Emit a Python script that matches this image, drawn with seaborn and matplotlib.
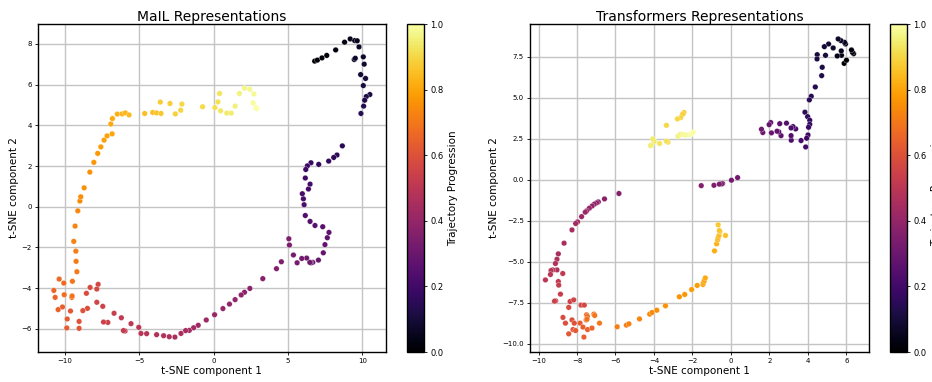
import numpy as np
import seaborn as sns
import matplotlib.pyplot as plt
from matplotlib.cm import ScalarMappable
from matplotlib.colors import Normalize

# ── t-SNE points, listed in trajectory order (start → end) ──────────────────
mail_x = [
    6.80, 6.98, 7.29, 7.61, 8.21, 8.81, 9.19, 9.49, 9.66, 9.78, 9.46, 9.53, 10.07, 10.13, 9.89, 10.22,
    10.07, 10.51, 10.27, 10.16, 10.09, 9.91,
    8.66, 8.30, 8.08, 7.74, 7.07, 6.55, 6.31, 6.20, 6.17, 6.49, 6.38, 5.97, 6.04, 6.09, 6.17, 6.49,
    6.82, 7.34, 7.76, 7.65, 7.49, 7.38, 7.05, 6.67, 6.55, 6.47, 6.26, 5.93, 5.62, 5.37, 5.10, 5.06,
    4.56, 4.23, 3.31, 2.44, 2.08, 1.86, 1.45, 1.07, 0.63, 0.07, -0.49, -1.03, -1.34, -1.63, -1.88,
    -2.19, -2.60, -2.98, -3.36, -3.83, -4.50, -4.88,
    -5.03, -5.55, -6.20, -5.95, -6.06, -6.69, -7.11, -7.40, -7.45, -7.85, -7.76, -7.85, -8.30, -8.55,
    -8.48, -8.79, -9.04, -9.04, -9.62, -9.84, -9.87, -10.16, -10.45, -10.65, -10.74, -10.38, -10.07,
    -10.04, -9.53, -9.51, -9.49,
    -9.19, -9.24, -9.26, -9.40, -9.31, -9.13, -8.99, -8.93, -8.70, -8.32, -8.05, -7.79, -7.58, -7.36,
    -7.16, -6.82, -6.91, -6.80, -6.47, -6.15, -5.93, -5.68,
    -4.63, -4.09, -3.83, -3.53, -3.58, -2.93, -2.57, -2.21, -2.13, -0.74, 0.09, 0.29, 0.40, 0.47,
    0.89, 1.19, 1.45, 1.74, 2.08, 2.44, 2.71, 2.66, 2.84, 2.90,
]
mail_y = [
    7.15, 7.20, 7.31, 7.43, 7.70, 8.08, 8.24, 8.16, 8.15, 7.85, 7.23, 7.29, 7.36, 7.00, 6.49, 6.30,
    5.95, 5.51, 5.41, 5.23, 4.94, 4.58,
    2.99, 2.54, 2.42, 2.24, 2.08, 2.16, 2.01, 1.83, 1.41, 1.11, 0.87, 0.64, 0.39, 0.10, -0.43, -0.72,
    -0.92, -0.98, -1.26, -1.52, -1.86, -2.26, -2.62, -2.73, -2.75, -2.73, -2.52, -2.54, -2.75, -2.37,
    -1.88, -1.57,
    -2.70, -3.04, -3.53, -4.01, -4.20, -4.33, -4.56, -4.78, -5.00, -5.30, -5.56, -5.82, -5.94, -6.07,
    -6.08, -6.22, -6.40, -6.38, -6.33, -6.28, -6.23, -6.22,
    -5.92, -5.74, -5.45, -6.10, -6.08, -5.23, -5.68, -5.66, -4.89, -4.69, -3.81, -4.04, -3.96, -4.25,
    -4.99, -5.10, -5.63, -5.97, -5.12, -5.51, -5.95, -4.92, -5.05, -4.45, -4.11, -3.55, -3.75,
    -4.32, -4.45, -4.38, -3.66,
    -3.19, -2.68, -2.18, -1.70, -0.95, -0.20, 0.28, 0.49, 0.93, 1.70, 2.18, 2.62, 2.94, 3.27,
    3.48, 3.58, 4.06, 4.33, 4.55, 4.56, 4.61, 4.51,
    4.58, 4.63, 4.61, 4.58, 5.14, 5.07, 4.56, 4.74, 5.04, 4.91, 4.87, 5.15, 5.56, 4.71,
    4.60, 4.60, 4.94, 5.56, 5.82, 5.77, 5.54, 5.10, 4.87, 4.82,
]

trans_x = [
    5.89, 6.01, 6.38, 6.32, 6.27, 5.75, 5.53, 5.74, 5.96, 5.91, 5.72, 5.58, 5.32, 5.08, 4.86, 4.92,
    4.49, 4.48, 4.75, 4.72, 4.39, 4.18, 4.08, 3.85, 3.99, 4.10, 4.10, 4.04, 4.01, 3.94, 3.89, 3.65,
    3.37, 3.23, 3.13, 3.14, 3.13, 2.89, 2.54, 2.61, 2.49, 2.40, 2.07, 1.99, 2.11, 1.66, 1.59,
    0.35, 0.03, -0.43, -0.48, -0.60, -0.88, -1.54,
    -5.82, -6.57, -6.89, -6.98, -7.10, -7.21, -7.36, -7.50, -7.57, -7.76, -7.97, -8.07, -8.26, -8.67,
    -8.97, -9.04, -9.12, -9.04, -9.26, -9.35, -9.38, -9.64, -8.74, -8.97, -8.95, -8.86, -9.11, -9.17,
    -8.36, -8.17, -7.79, -7.62, -8.43, -8.73, -8.60, -8.26, -8.14, -8.21, -8.43, -8.07, -7.84, -7.69,
    -7.64, -7.45, -7.22, -7.52, -7.50, -7.46, -7.48, -7.12, -7.08, -6.83,
    -5.91, -5.43, -5.30, -4.75, -4.22, -4.10, -3.85, -3.40, -2.68, -2.40, -2.04, -1.75, -1.45, -1.42,
    -1.38, -1.33,
    -0.85, -0.74, -0.69, -0.66, -0.62, -0.57, -0.28, -0.60, -0.66,
    -2.44, -2.51, -2.61, -2.78, -3.35, -3.27, -3.35, -3.71, -3.99, -4.06, -4.13, -4.18, -2.75, -2.64,
    -2.47, -2.33, -2.16, -2.06, -1.95,
]
trans_y = [
    7.11, 7.30, 7.70, 7.78, 7.93, 7.60, 7.56, 7.87, 8.29, 8.39, 8.50, 8.60, 8.05, 8.29, 8.13, 7.60,
    7.64, 7.38, 6.87, 6.36, 5.67, 5.10, 4.88, 4.13, 3.86, 3.64, 3.39, 3.21, 2.74, 2.54, 2.01, 2.40,
    3.11, 3.25, 3.17, 2.42, 2.70, 3.46, 3.43, 2.70, 2.93, 2.97, 3.50, 3.37, 2.87, 2.89, 3.09,
    0.14, -0.02, -0.22, -0.24, -0.26, -0.33, -0.35,
    -0.83, -1.16, -1.34, -1.40, -1.48, -1.59, -1.73, -1.89, -1.97, -2.24, -2.56, -2.66, -3.05, -3.86,
    -4.51, -4.84, -5.10, -5.49, -5.49, -5.53, -5.77, -6.10, -5.71, -6.20, -6.42, -6.97, -7.38, -7.40,
    -7.42, -7.32, -7.64, -7.64, -7.78, -8.39, -8.74, -8.54, -8.74, -9.13, -9.39, -9.19, -8.74, -8.98,
    -9.59, -9.13, -9.04, -8.54, -8.23, -8.33, -8.50, -8.19, -8.27, -8.74,
    -8.96, -8.86, -8.78, -8.48, -8.19, -8.09, -7.95, -7.68, -7.13, -6.99, -6.69, -6.44, -6.38, -6.26,
    -6.14, -5.98,
    -4.33, -3.90, -3.66, -3.52, -3.39, -3.15, -3.39, -3.09, -2.74,
    4.11, 4.00, 3.80, 3.72, 3.33, 2.30, 2.36, 2.22, 2.36, 2.50, 2.13, 2.09, 2.66, 2.78,
    2.76, 2.74, 2.76, 2.80, 2.91,
]

panels = [
    ("MaIL Representations", mail_x, mail_y, [-10, -5, 0, 5, 10], [-6, -4, -2, 0, 2, 4, 6, 8]),
    ("Transformers Representations", trans_x, trans_y, [-10, -8, -6, -4, -2, 0, 2, 4, 6],
     [-10.0, -7.5, -5.0, -2.5, 0.0, 2.5, 5.0, 7.5]),
]

# ── Figure ──────────────────────────────────────────────────────────────────
fig = plt.figure(figsize=(9.32, 3.82), dpi=100)
ax_pos = [[0.0408, 0.0785, 0.3730, 0.8586], [0.5687, 0.0785, 0.3637, 0.8586]]
cb_pos = [[0.4370, 0.0785, 0.0180, 0.8586], [0.9552, 0.0785, 0.0180, 0.8586]]
norm = Normalize(0, 1)

for (title, xs, ys, xt, yt), apos, cpos in zip(panels, ax_pos, cb_pos):
    ax = fig.add_axes(apos)
    cax = fig.add_axes(cpos)
    n = len(xs)
    progress = np.arange(n) / (n - 1)  # position along the trajectory

    ax.grid(True, color="#c4c4c4", linewidth=1.0, zorder=0)
    ax.set_axisbelow(True)
    sns.scatterplot(x=xs, y=ys, hue=progress, palette="inferno", hue_norm=(0, 1),
                    s=16, linewidth=0.2, edgecolor="white", legend=False, ax=ax, zorder=3)

    ax.set_xticks(xt)
    ax.set_yticks(yt)
    ax.tick_params(labelsize=5, length=2.5, width=0.6, pad=2)
    for sp in ax.spines.values():
        sp.set_linewidth(1.0)
    ax.set_title(title, fontsize=10, pad=2)
    ax.set_xlabel("t-SNE component 1", fontsize=7.5, labelpad=1)
    ax.set_ylabel("t-SNE component 2", fontsize=7.5, labelpad=2)

    cb = fig.colorbar(ScalarMappable(norm=norm, cmap="inferno"), cax=cax)
    cb.set_ticks([0.0, 0.2, 0.4, 0.6, 0.8, 1.0])
    cb.ax.tick_params(labelsize=6, length=2.5, width=0.6, pad=2)
    cb.outline.set_linewidth(1.0)
    cb.set_label("Trajectory Progression", fontsize=7.5, labelpad=3)

fig.savefig("out.png", dpi=100)
